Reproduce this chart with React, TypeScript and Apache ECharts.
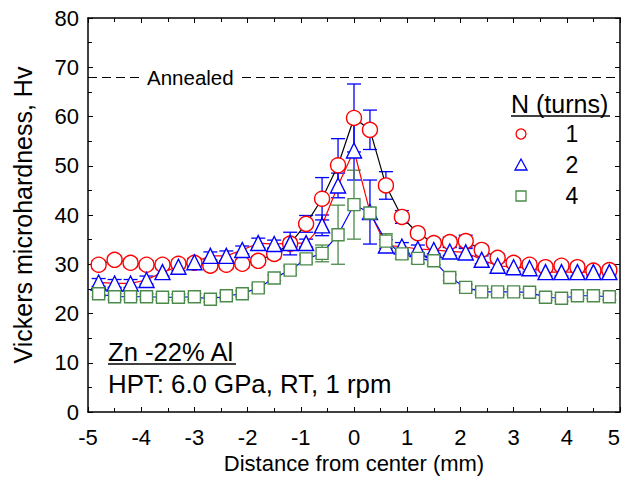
import React, { useEffect, useRef } from "react";
import * as echarts from "echarts";

const xs = [-4.8, -4.5, -4.2, -3.9, -3.6, -3.3, -3.0, -2.7, -2.4, -2.1, -1.8, -1.5, -1.2, -0.9, -0.6, -0.3, 0, 0.3, 0.6, 0.9, 1.2, 1.5, 1.8, 2.1, 2.4, 2.7, 3.0, 3.3, 3.6, 3.9, 4.2, 4.5, 4.8];

const hv1 = [29.9, 30.9, 30.3, 29.9, 29.9, 30.1, 30.3, 29.7, 29.9, 30.1, 30.7, 32.1, 34.2, 38.2, 43.3, 50.1, 59.7, 57.3, 46.0, 39.6, 36.3, 34.3, 34.5, 34.7, 32.9, 31.3, 30.3, 29.9, 29.4, 29.7, 29.4, 28.7, 28.8];
const err1 = [0.8, 0.8, 0.8, 0.8, 0.8, 0.8, 0.8, 0.8, 0.8, 0.8, 0.9, 1.0, 2.3, 1.7, 4.3, 5.4, 6.9, 4.0, 2.8, 1.3, 0.8, 0.8, 1.0, 1.2, 0.9, 0.8, 0.8, 0.8, 0.8, 0.8, 0.8, 0.8, 0.8];

const hv2 = [26.3, 26.1, 26.1, 26.8, 28.4, 29.5, 30.4, 31.7, 31.7, 32.9, 34.3, 34.1, 34.3, 34.3, 37.9, 46.0, 53.1, 40.6, 33.8, 33.6, 33.1, 32.9, 32.6, 32.4, 30.9, 29.7, 29.4, 29.2, 28.4, 28.4, 28.4, 28.4, 28.4];
const err2 = [0.8, 0.8, 0.8, 0.8, 0.8, 0.8, 0.8, 0.8, 1.0, 0.8, 1.0, 0.8, 0.8, 0.8, 2.1, 2.5, 6.0, 6.5, 1.2, 0.8, 0.8, 0.8, 0.8, 0.8, 0.8, 0.8, 0.8, 0.8, 0.8, 0.8, 0.8, 0.8, 0.8];

const hv4 = [24.0, 23.4, 23.4, 23.4, 23.3, 23.3, 23.4, 22.9, 23.6, 24.0, 25.2, 27.2, 28.8, 31.1, 32.2, 36.0, 42.1, 40.4, 34.7, 32.1, 31.2, 30.7, 27.3, 25.3, 24.4, 24.4, 24.4, 24.3, 23.3, 23.1, 23.6, 23.6, 23.4];
const err4 = [0.6, 0.6, 0.6, 0.6, 0.6, 0.6, 0.6, 0.6, 0.6, 0.6, 0.6, 0.6, 0.8, 0.8, 1.7, 6.0, 7.0, 1.0, 1.5, 1.0, 1.0, 0.8, 0.6, 0.6, 0.6, 0.6, 0.6, 0.6, 0.6, 0.6, 0.6, 0.6, 0.6];

const annealed = 68;
const legendTitle = "N (turns)";
const legendLabels = ["1", "2", "4"];

const FONT = "'Liberation Sans', Arial, sans-serif";
const RED = "#ff0000";
const BLUE = "#0000ff";
const GREEN = "#4a8a4a";

function errData(vals: number[], errs: number[]) {
  return xs.map((x, i) => [x, vals[i] - errs[i], vals[i] + errs[i]]);
}

function errSeries(vals: number[], errs: number[], color: string) {
  return {
    type: "custom",
    z: 2,
    silent: true,
    encode: { x: 0, y: [1, 2] },
    data: errData(vals, errs),
    renderItem: (params: any, api: any) => {
      const x = api.value(0);
      const lo = api.coord([x, api.value(1)]);
      const hi = api.coord([x, api.value(2)]);
      const hw = 7;
      const style = { stroke: color, lineWidth: 1.3 };
      return {
        type: "group",
        children: [
          { type: "line", shape: { x1: lo[0], y1: lo[1], x2: hi[0], y2: hi[1] }, style },
          { type: "line", shape: { x1: lo[0] - hw, y1: lo[1], x2: lo[0] + hw, y2: lo[1] }, style },
          { type: "line", shape: { x1: hi[0] - hw, y1: hi[1], x2: hi[0] + hw, y2: hi[1] }, style },
        ],
      };
    },
  };
}

function lineSeries(name: string, vals: number[], lineColor: string, markColor: string, symbol: string, size: number) {
  return {
    type: "line",
    name,
    z: 3,
    data: xs.map((x, i) => [x, vals[i]]),
    symbol,
    symbolSize: size,
    showAllSymbol: true,
    lineStyle: { color: lineColor, width: 1.2 },
    itemStyle: { color: "#ffffff", borderColor: markColor, borderWidth: 1.4 },
  };
}

const tickCommon = {
  axisLine: { show: true, onZero: false, lineStyle: { color: "#000", width: 1.5 } },
  axisTick: { show: true, inside: true, length: 5, lineStyle: { color: "#000", width: 1 } },
  minorTick: { show: true, splitNumber: 2, length: 4, lineStyle: { color: "#000", width: 1 } },
  splitLine: { show: false },
  minorSplitLine: { show: false },
};

export default function App() {
  const ref = useRef<HTMLDivElement>(null);
  useEffect(() => {
    document.body.style.margin = "0";
    if (!ref.current) return;
    const chart = echarts.init(ref.current, undefined, { renderer: "svg" });
    const legX = 521;
    const legTxtX = 572;
    const legY = [134, 165, 196];
    chart.setOption({
      animation: false,
      backgroundColor: "#ffffff",
      textStyle: { fontFamily: FONT },
      grid: { left: 88, right: 5, top: 18, bottom: 77 },
      xAxis: [
        {
          type: "value",
          min: -5,
          max: 5,
          interval: 1,
          position: "bottom",
          name: "Distance from center (mm)",
          nameLocation: "middle",
          nameGap: 40,
          nameTextStyle: { fontSize: 22, color: "#000", fontFamily: FONT },
          axisLabel: { fontSize: 22, color: "#000", margin: 14, fontFamily: FONT, alignMaxLabel: "right" },
          ...tickCommon,
        },
        {
          type: "value",
          min: -5,
          max: 5,
          interval: 1,
          position: "top",
          axisLabel: { show: false },
          ...tickCommon,
        },
      ],
      yAxis: [
        {
          type: "value",
          min: 0,
          max: 80,
          interval: 10,
          position: "left",
          name: "Vickers microhardness, Hv",
          nameLocation: "middle",
          nameGap: 53,
          nameTextStyle: { fontSize: 25, color: "#000", fontFamily: FONT },
          axisLabel: { fontSize: 22, color: "#000", margin: 9, fontFamily: FONT },
          ...tickCommon,
        },
        {
          type: "value",
          min: 0,
          max: 80,
          interval: 10,
          position: "right",
          axisLabel: { show: false },
          ...tickCommon,
        },
      ],
      series: [
        {
          type: "line",
          data: [],
          markLine: {
            silent: true,
            symbol: "none",
            label: { show: false },
            lineStyle: { color: "#000", type: [9, 5], width: 1.2 },
            data: [{ yAxis: annealed }],
          },
        },
        errSeries(hv1, err1, BLUE),
        errSeries(hv2, err2, BLUE),
        errSeries(hv4, err4, GREEN),
        lineSeries("1", hv1, "#000000", RED, "circle", 15),
        lineSeries("2", hv2, RED, BLUE, "triangle", 15),
        lineSeries("4", hv4, BLUE, GREEN, "rect", 12),
      ],
      graphic: [
        {
          type: "text",
          x: 141,
          y: 77,
          z: 10,
          style: {
            text: "Annealed",
            font: `20.5px ${FONT}`,
            fill: "#000",
            backgroundColor: "#fff",
            padding: [0, 6],
            verticalAlign: "middle",
          },
        },
        {
          type: "text",
          x: 108,
          y: 352,
          style: { text: "Zn -22% Al", font: `25.6px ${FONT}`, fill: "#000", verticalAlign: "middle" },
        },
        { type: "line", shape: { x1: 108, y1: 364, x2: 236, y2: 364 }, style: { stroke: "#000", lineWidth: 1.3 } },
        {
          type: "text",
          x: 108,
          y: 384,
          style: { text: "HPT: 6.0 GPa, RT, 1 rpm", font: `25.8px ${FONT}`, fill: "#000", verticalAlign: "middle" },
        },
        {
          type: "text",
          x: 511,
          y: 104,
          style: { text: legendTitle, font: `25px ${FONT}`, fill: "#000", verticalAlign: "middle" },
        },
        { type: "line", shape: { x1: 511, y1: 116, x2: 610, y2: 116 }, style: { stroke: "#000", lineWidth: 1.3 } },
        { type: "circle", shape: { cx: legX, cy: legY[0], r: 5 }, style: { fill: "#fff", stroke: RED, lineWidth: 1.3 } },
        { type: "polygon", shape: { points: [[legX, legY[1] - 6], [legX - 6, legY[1] + 5], [legX + 6, legY[1] + 5]] }, style: { fill: "#fff", stroke: BLUE, lineWidth: 1.3 } },
        { type: "rect", shape: { x: legX - 5, y: legY[2] - 5, width: 10, height: 10 }, style: { fill: "#fff", stroke: GREEN, lineWidth: 1.3 } },
        ...legendLabels.map((t, i) => ({
          type: "text",
          x: legTxtX,
          y: legY[i],
          style: { text: t, font: `23px ${FONT}`, fill: "#000", align: "center", verticalAlign: "middle" },
        })),
      ],
    });
    return () => chart.dispose();
  }, []);
  return <div ref={ref} style={{ width: 625, height: 489 }} />;
}
